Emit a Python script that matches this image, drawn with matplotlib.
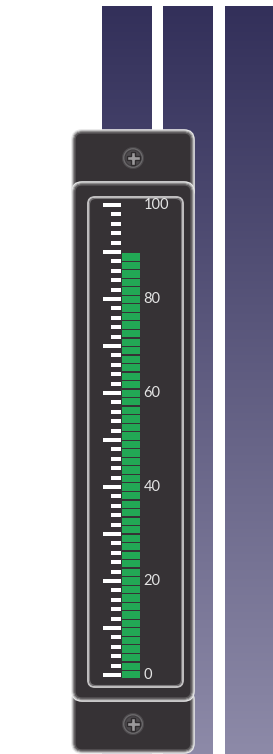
import matplotlib

matplotlib.use("Agg")
import matplotlib.pyplot as plt
import numpy as np
from matplotlib.colors import LinearSegmentedColormap
from matplotlib.patches import FancyBboxPatch, Circle, Polygon

# ---- data ----
value = 90
scale_min, scale_max = 0, 100
minor_ticks = list(range(0, 101, 2))
major_ticks = list(range(0, 101, 10))
label_ticks = [0, 20, 40, 60, 80, 100]
tick_labels = ["0", "20", "40", "60", "80", "100"]

W, H = 273, 754
panel_bg = "#363235"
green = "#22a855"

fig = plt.figure(figsize=(W / 100, H / 100), dpi=100)
fig.patch.set_facecolor("white")

# background axes in pixel coordinates (y down)
bg = fig.add_axes([0, 0, 1, 1])
bg.axis("off")

cmap = LinearSegmentedColormap.from_list("strip", ["#33305a", "#8d8aa8"])
grad = np.linspace(0, 1, 256).reshape(-1, 1)
for x0, x1 in [(102, 152), (163, 213), (225, 276)]:
    bg.imshow(grad, cmap=cmap, aspect="auto", extent=(x0, x1, H, 6),
              zorder=0, interpolation="bilinear")
bg.set_xlim(0, W)
bg.set_ylim(H, 0)


def rbox(x0, y0, x1, y1, r, fc, ec, lw, z):
    bg.add_patch(FancyBboxPatch((x0, y0), x1 - x0, y1 - y0,
                                boxstyle=f"round,pad=0,rounding_size={r}",
                                fc=fc, ec=ec, lw=lw, zorder=z))


def bevel_box(x0, y0, x1, y1, r, z):
    # light rim fading inwards
    rbox(x0, y0, x1, y1, r, panel_bg, "#e6e6e6", 1.2, z)
    for i, c in enumerate(["#bdbdbd", "#8e8c8d", "#5e5b5d"], start=1):
        rbox(x0 + i, y0 + i, x1 - i, y1 - i, max(r - i, 1), "none", c, 0.9,
             z + 0.1 * i)


def screw(cx, cy, z):
    bg.add_patch(Circle((cx, cy), 10.5, fc="#6b696b", ec="#4a474a", lw=0.8,
                        zorder=z))
    bg.add_patch(Circle((cx, cy), 8, fc="#4d4a4d", ec="#3e3b3e", lw=0.8,
                        zorder=z + 0.1))
    a, b = 6.5, 2.3
    pts = [(-b, -a), (b, -a), (b, -b), (a, -b), (a, b), (b, b), (b, a),
           (-b, a), (-b, b), (-a, b), (-a, -b), (-b, -b)]
    bg.add_patch(Polygon([(cx + px, cy + py) for px, py in pts], closed=True,
                         fc="#9b999b", ec="#2e2b2d", lw=1.0, zorder=z + 0.2))


# caps, then body on top of them
bevel_box(72, 130, 194, 200, 10, 2)
bevel_box(72, 690, 194, 753, 10, 2)
screw(133, 158, 3)
screw(133, 724, 3)
bevel_box(72, 182, 194, 701, 10, 4)

# display window
rbox(88, 197, 183, 687, 7, panel_bg, "#c4c2c3", 1.4, 5)
rbox(89.5, 198.5, 181.5, 685.5, 6, "none", "#7c797b", 0.8, 5.1)

# gauge axes: x in pixels, y in value units
y0 = (H - 675) / H
y1 = (H - 205) / H
ax = fig.add_axes([0, y0, 1, y1 - y0])
ax.set_xlim(0, W)
ax.set_ylim(scale_min, scale_max)
ax.axis("off")
ax.patch.set_alpha(0)
ax.set_zorder(6)

tick_h = 0.85
minor_only = [t for t in minor_ticks if t not in major_ticks]
ax.barh(minor_only, width=10, left=111, height=tick_h, color="white",
        clip_on=False)
ax.barh(major_ticks, width=18, left=103, height=tick_h, color="white",
        clip_on=False)

# segmented level bar
bottom = -0.7
n_seg = int(round((value - bottom) / 1.8))
pitch = (value - bottom) / n_seg
seg_bottoms = bottom + pitch * np.arange(n_seg)
ax.bar(np.full(n_seg, 131.0), pitch - 0.27, bottom=seg_bottoms, width=18,
       color=green, clip_on=False)

for t, lab in zip(label_ticks, tick_labels):
    ax.text(143.5, t, lab, ha="left", va="center", color="#e4e4e4",
            fontsize=10.5, family=["Lato", "DejaVu Sans"])

fig.savefig("out.png", dpi=100, facecolor="white")
